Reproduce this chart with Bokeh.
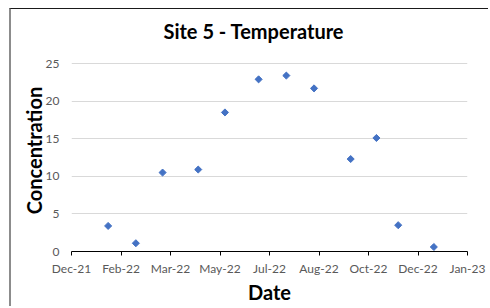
import math
import pandas as pd
from bokeh.plotting import figure
from bokeh.models import ColumnDataSource, FixedTicker, DatetimeTickFormatter, Range1d
from bokeh.embed import file_html
from bokeh.resources import INLINE

# ---- data ----
dates = ["2022-01-26", "2022-02-23", "2022-03-22", "2022-04-27", "2022-05-24",
         "2022-06-27", "2022-07-25", "2022-08-22", "2022-09-28", "2022-10-24",
         "2022-11-15", "2022-12-21"]
values = [3.4, 1.1, 10.5, 10.9, 18.5, 22.9, 23.4, 21.7, 12.3, 15.1, 3.5, 0.6]
x_tick_dates = ["2021-12-20", "2022-02-08", "2022-03-30", "2022-05-19", "2022-07-08",
                "2022-08-27", "2022-10-16", "2022-12-05", "2023-01-24"]
y_ticks = [0, 5, 10, 15, 20, 25]
title_text = "Site 5 - Temperature"
x_label = "Date"
y_label = "Concentration"

FONT = "Lato"
Y_TOP = 26.87  # plot area extends a little above the top gridline

def to_ms(s):
    return pd.Timestamp(s).value / 1e6

src = ColumnDataSource(dict(x=pd.to_datetime(dates), y=values))

p = figure(width=479, height=298, x_axis_type="datetime",
           output_backend="svg", toolbar_location=None,
           x_range=Range1d(to_ms(x_tick_dates[0]), to_ms(x_tick_dates[-1])),
           y_range=Range1d(y_ticks[0], Y_TOP),
           min_border_left=60, min_border_right=23,
           min_border_top=40, min_border_bottom=56)

p.scatter("x", "y", source=src, marker="square", size=5, angle=math.pi / 4,
          fill_color="#4472C4", line_color="#4472C4", line_width=1)

p.title.text = title_text
p.title.align = "left"
p.title.offset = 92
p.title.text_font = FONT
p.title.text_font_style = "bold"
p.title.text_font_size = "20px"
p.title.text_color = "#000000"
p.title.standoff = 14

p.outline_line_color = None
p.background_fill_color = "white"
p.border_fill_color = "white"

p.xgrid.visible = False
p.ygrid.grid_line_color = "#d9d9d9"
p.ygrid.grid_line_width = 1

xa = p.xaxis[0]
xa.ticker = FixedTicker(ticks=[to_ms(d) for d in x_tick_dates])
fmt = "%b-%y"
xa.formatter = DatetimeTickFormatter(days=fmt, months=fmt, years=fmt, hours=fmt)
xa.axis_line_color = "#000000"
xa.major_tick_line_color = "#000000"
xa.major_tick_in = 0
xa.major_tick_out = 4
xa.minor_tick_line_color = None
xa.major_label_text_font = FONT
xa.major_label_text_font_size = "12px"
xa.major_label_text_color = "#595959"
xa.major_label_standoff = 5
xa.major_label_text_line_height = 1.0
xa.axis_label = x_label
xa.axis_label_text_font = FONT
xa.axis_label_text_font_style = "bold"
xa.axis_label_text_font_size = "20px"
xa.axis_label_text_color = "#000000"
xa.axis_label_text_line_height = 1.0
xa.axis_label_standoff = 1

ya = p.yaxis[0]
ya.ticker = FixedTicker(ticks=y_ticks)
ya.axis_line_color = None
ya.major_tick_line_color = None
ya.minor_tick_line_color = None
ya.major_label_text_font = FONT
ya.major_label_text_font_size = "12px"
ya.major_label_text_color = "#595959"
ya.major_label_standoff = 6
ya.axis_label = y_label
ya.axis_label_text_font = FONT
ya.axis_label_text_font_style = "bold"
ya.axis_label_text_font_size = "20px"
ya.axis_label_text_color = "#000000"
ya.axis_label_text_line_height = 1.0
ya.axis_label_standoff = -3

p.styles = {"margin-left": "9px", "margin-top": "8px",
            "border-left": "2px solid #8c8c8c", "border-top": "1px solid #1a1a1a"}

open("out.html", "w").write(file_html(p, INLINE))
